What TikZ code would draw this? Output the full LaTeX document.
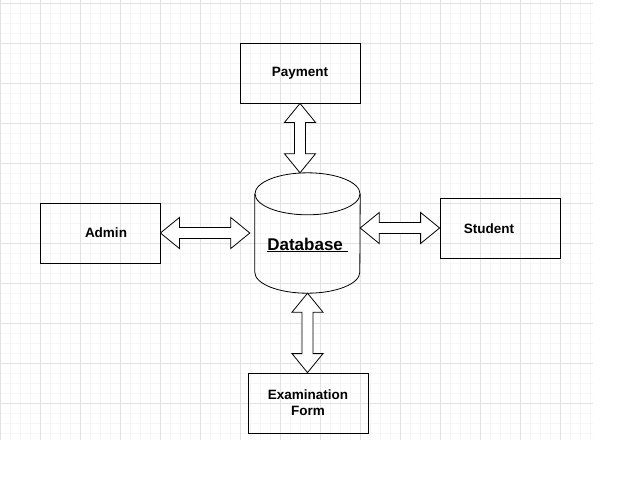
\documentclass[tikz,border=0pt]{standalone}
\usepackage{fontspec}
\setmainfont{Liberation Sans}
\usetikzlibrary{calc}
\definecolor{gridminor}{RGB}{246,246,246}
\definecolor{gridmajor}{RGB}{226,226,226}
\tikzset{
  box/.style={draw, line width=0.8pt, minimum width=120pt, minimum height=60pt, inner sep=0pt,
    align=center, font=\fontsize{13.5}{16}\selectfont\bfseries},
  lbl/.style={inner sep=0pt, font=\fontsize{13.5}{16}\selectfont\bfseries},
  blockarrow/.style={draw, fill=white, line width=0.8pt, line join=miter},
}
% hollow two-headed block arrow from #1 to #2
\newcommand{\dblarrow}[2]{%
  \draw[blockarrow] let \p1=(#1), \p2=(#2),
      \n1={atan2(\y2-\y1,\x2-\x1)}, \n2={veclen(\x2-\x1,\y2-\y1)} in
    [shift={(\p1)}, rotate=\n1]
    (0pt,0pt) -- (19pt,15.5pt) -- (19pt,5.5pt) -- ({\n2*1pt-19pt},5.5pt) -- ({\n2*1pt-19pt},15.5pt)
    -- ({\n2*1pt},0pt) -- ({\n2*1pt-19pt},-15.5pt) -- ({\n2*1pt-19pt},-5.5pt) -- (19pt,-5.5pt)
    -- (19pt,-15.5pt) -- cycle;}
\begin{document}
\begin{tikzpicture}[x=1pt, y=-1pt]
  \useasboundingbox (0,0) rectangle (629,479);
  % grid paper
  \foreach \gx in {0,10,...,590} \draw[gridminor, line width=0.7pt] (\gx,0) -- (\gx,440);
  \foreach \gy in {3,13,...,433} \draw[gridminor, line width=0.7pt] (0,\gy) -- (593,\gy);
  \foreach \gx in {0,40,...,560} \draw[gridmajor, line width=0.7pt] (\gx,0) -- (\gx,440);
  \foreach \gy in {3,43,...,403} \draw[gridmajor, line width=0.7pt] (0,\gy) -- (593,\gy);

  % entities
  \node[box] (pay) at (300,73) {\raisebox{-1.5pt}{Payment}};
  \node[box] (adm) at (100,233) {};
  \node[lbl] (admtxt) at ($(adm)+(6,0)$) {Admin};
  \node[box] (stu) at (500,228) {};
  \node[lbl] (stutxt) at ($(stu)+(-11,1)$) {Student};
  \node[box] (exam) at (308,403) {Examination\\Form};

  % database cylinder
  \node[minimum width=105pt, minimum height=120pt, inner sep=0pt] (db) at (307.5,233) {};
  \draw[line width=0.8pt] ($(db.north west)+(0,21)$) -- ($(db.south west)+(0,-21)$)
    arc[start angle=180, end angle=360, x radius=52.5pt, y radius=21pt]
    -- ($(db.north east)+(0,21)$);
  \draw[line width=0.8pt] ($(db.north)+(0,21)$) ellipse[x radius=52.5pt, y radius=21pt];
  \node[lbl, font=\fontsize{17}{18}\selectfont\bfseries] (dbtxt) at ($(db)+(0,12)$) {\underline{Database\ }};

  % links
  \coordinate (dbleft) at ($(adm.east -| db.west)+(-5,0)$);
  \dblarrow{pay.south}{pay.south |- db.north}
  \dblarrow{adm.east}{dbleft}
  \dblarrow{stu.west -| db.east}{stu.west}
  \dblarrow{db.south}{db.south |- exam.north}
\end{tikzpicture}
\end{document}
